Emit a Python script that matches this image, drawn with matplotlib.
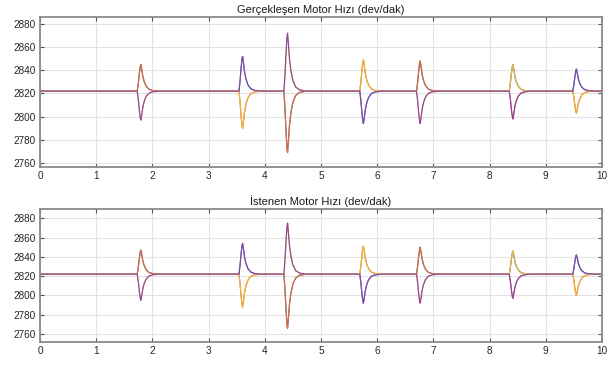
import numpy as np
import matplotlib
matplotlib.use("Agg")
import matplotlib.pyplot as plt

plt.rcParams["font.family"] = ["Liberation Sans", "DejaVu Sans"]

# ---- data ----
titles = ["Gerçekleşen Motor Hızı (dev/dak)", "İstenen Motor Hızı (dev/dak)"]
series_names = ["blue", "orange", "yellow", "purple"]
series_colors = ["#2a7fc4", "#e0683a", "#f0b43c", "#8e48a3"]

baseline = 2822
event_times = [1.73, 3.54, 4.34, 5.69, 6.70, 8.35, 9.48]

# shape of one transient (time after onset, fraction of peak deviation)
shape_dt = [0, 0.02, 0.04, 0.055, 0.065, 0.08, 0.10, 0.125, 0.16, 0.21, 0.28, 0.40]
shape_fr = [0, 0.30, 0.70, 0.93, 1.00, 0.82, 0.55, 0.35, 0.18, 0.07, 0.02, 0]

# peak value of each series at each event (top chart)
top_blue   = [2845, 2852, 2769, 2794, 2848, 2845, 2841]
top_orange = [2845, 2790, 2769, 2849, 2848, 2798, 2803]
top_yellow = [2797, 2790, 2872, 2849, 2794, 2845, 2803]
top_purple = [2797, 2852, 2872, 2794, 2794, 2798, 2841]

# bottom chart
bot_blue   = [2847, 2854, 2766, 2792, 2850, 2846, 2842]
bot_orange = [2847, 2788, 2766, 2851, 2850, 2797, 2800]
bot_yellow = [2795, 2788, 2875, 2851, 2792, 2846, 2800]
bot_purple = [2795, 2854, 2875, 2792, 2792, 2797, 2842]

x_ticks = list(range(0, 11))
y_ticks = [2760, 2780, 2800, 2820, 2840, 2860, 2880]
ylims = [(2756.5, 2886), (2752, 2889.6)]


def build(peaks):
    t = [0.0]
    y = [baseline]
    for t0, p in zip(event_times, peaks):
        for dt, fr in zip(shape_dt, shape_fr):
            t.append(t0 + dt)
            y.append(baseline + fr * (p - baseline))
    t.append(10.0)
    y.append(baseline)
    return np.array(t), np.array(y)


fig = plt.figure(figsize=(6.13, 3.67), dpi=100)
axes_rects = [
    [40 / 613, 1 - 167 / 367, 562 / 613, 150 / 367],
    [40 / 613, 1 - 341.7 / 367, 562 / 613, 132.7 / 367],
]
data_sets = [
    [top_blue, top_orange, top_yellow, top_purple],
    [bot_blue, bot_orange, bot_yellow, bot_purple],
]

for rect, title, ds, yl in zip(axes_rects, titles, data_sets, ylims):
    ax = fig.add_axes(rect)
    for peaks, col in zip(ds, series_colors):
        t, y = build(peaks)
        ax.plot(t, y, color=col, lw=0.85)
    ax.set_xlim(0, 10)
    ax.set_ylim(*yl)
    ax.set_xticks(x_ticks)
    ax.set_yticks(y_ticks)
    ax.grid(True, color="#e3e3e3", lw=0.8)
    ax.set_axisbelow(True)
    for s in ax.spines.values():
        s.set_color("#8a8a8a")
        s.set_linewidth(1.3)
    ax.tick_params(direction="in", length=3, width=0.8, color="#555555",
                   top=True, right=True, labelsize=7.2, labelcolor="#262626", pad=3)
    ax.set_title(title, fontsize=8, color="#1a1a1a", pad=3)

fig.savefig("out.png", dpi=100, facecolor="white")
